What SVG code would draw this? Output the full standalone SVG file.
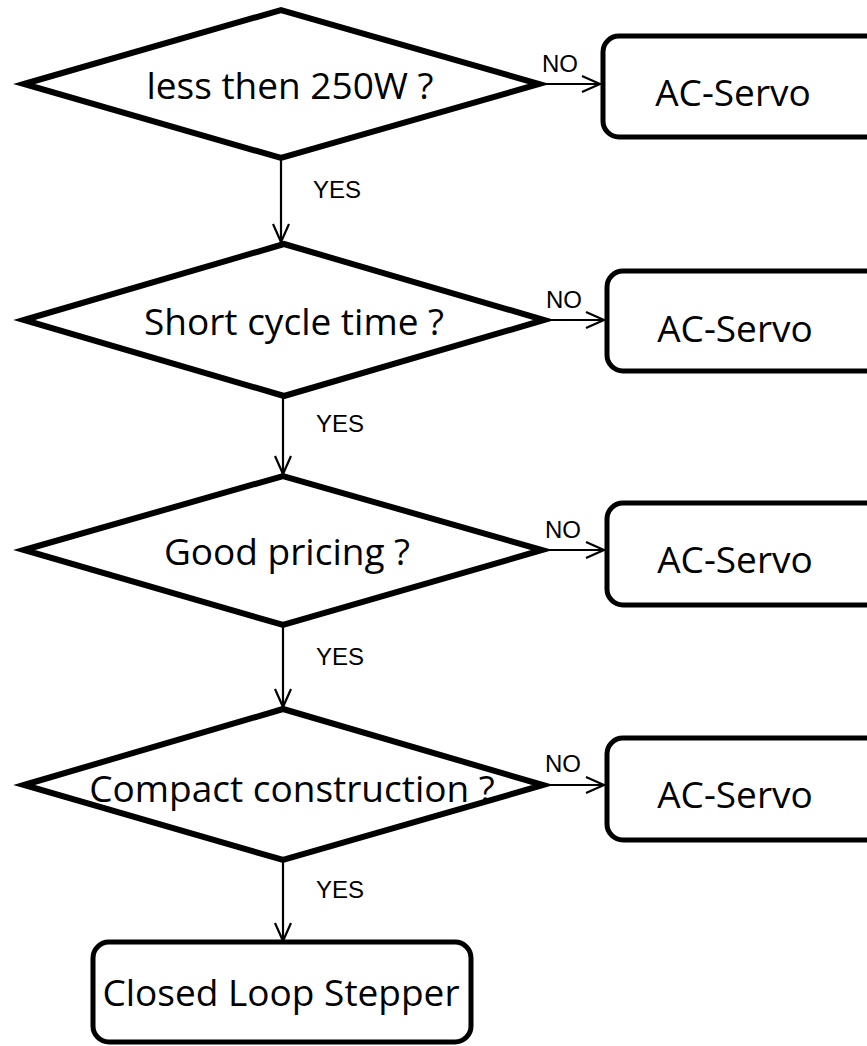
<svg xmlns="http://www.w3.org/2000/svg" width="867" height="1046" viewBox="0 0 867 1046">
<defs>
<marker id="arr" markerUnits="userSpaceOnUse" markerWidth="24" markerHeight="24" viewBox="-20 -10 24 20" refX="0" refY="0" orient="auto" overflow="visible">
<path d="M-18,-8 L0,0 L-18,8" fill="none" stroke="#000" stroke-width="2.2"/>
</marker>
<style>
.dia{fill:#fff;stroke:#000;stroke-width:6;stroke-linejoin:miter}
.box{fill:#fff;stroke:#000;stroke-width:5}
.t{font-family:"Open Sans","DejaVu Sans",sans-serif;font-size:37px;fill:#000;text-anchor:middle}
.lb{font-family:"Liberation Sans",Arial,sans-serif;font-size:24px;fill:#000}
.c{fill:none;stroke:#000;stroke-width:2.2}
</style>
</defs>
<rect width="867" height="1046" fill="#fff"/>
<g id="connectors">
<line class="c" x1="539" y1="84" x2="600" y2="84" marker-end="url(#arr)"/>
<line class="c" x1="281" y1="159" x2="281" y2="242" marker-end="url(#arr)"/>
<line class="c" x1="544" y1="320" x2="604" y2="320" marker-end="url(#arr)"/>
<line class="c" x1="283" y1="395" x2="283" y2="474" marker-end="url(#arr)"/>
<line class="c" x1="542" y1="550" x2="604" y2="550" marker-end="url(#arr)"/>
<line class="c" x1="283" y1="625" x2="283" y2="707" marker-end="url(#arr)"/>
<line class="c" x1="543" y1="785" x2="604" y2="785" marker-end="url(#arr)"/>
<line class="c" x1="283" y1="860" x2="283" y2="941" marker-end="url(#arr)"/>
<text class="lb" x="542" y="72">NO</text>
<text class="lb" x="313" y="198">YES</text>
<text class="lb" x="546" y="308">NO</text>
<text class="lb" x="316" y="432">YES</text>
<text class="lb" x="545" y="538">NO</text>
<text class="lb" x="316" y="665">YES</text>
<text class="lb" x="545" y="772">NO</text>
<text class="lb" x="316" y="898">YES</text>
</g>
<g id="d1">
<polygon class="dia" points="24,84 281,10 539,84 281,158"/>
<text class="t" x="290" y="99">less then 250W ?</text>
</g>
<g id="b1">
<rect class="box" x="603" y="36" width="290" height="101" rx="16"/>
<text class="t" x="733" y="106">AC-Servo</text>
</g>
<g id="d2">
<polygon class="dia" points="24,320 284,244 544,320 284,396"/>
<text class="t" x="294" y="335">Short cycle time ?</text>
</g>
<g id="b2">
<rect class="box" x="607" y="271" width="290" height="100" rx="16"/>
<text class="t" x="735" y="342">AC-Servo</text>
</g>
<g id="d3">
<polygon class="dia" points="24,550 283,476 542,550 283,625"/>
<text class="t" x="287" y="565">Good pricing ?</text>
</g>
<g id="b3">
<rect class="box" x="607" y="503" width="290" height="102" rx="16"/>
<text class="t" x="735" y="573">AC-Servo</text>
</g>
<g id="d4">
<polygon class="dia" points="24,785 283,709 543,785 283,860"/>
<text class="t" x="292" y="802">Compact construction ?</text>
</g>
<g id="b4">
<rect class="box" x="607" y="738" width="290" height="102" rx="16"/>
<text class="t" x="735" y="808">AC-Servo</text>
</g>
<g id="end">
<rect class="box" x="93" y="942" width="378" height="100" rx="16"/>
<text class="t" x="281" y="1006">Closed Loop Stepper</text>
</g>
</svg>
